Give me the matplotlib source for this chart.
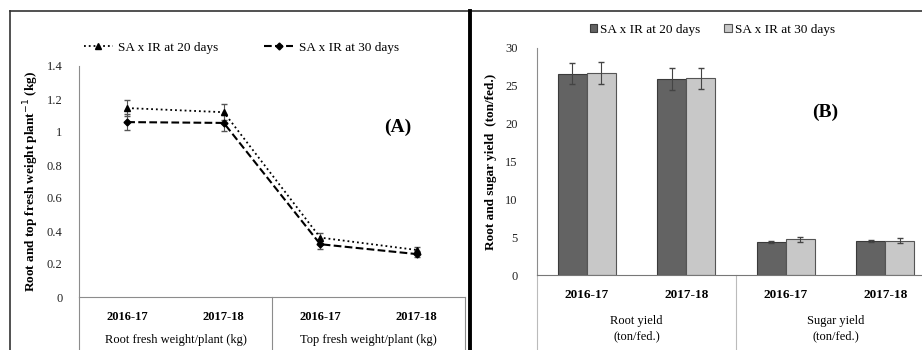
import matplotlib.pyplot as plt
from matplotlib.lines import Line2D

plt.rcParams['font.family'] = ['Liberation Serif', 'DejaVu Serif']

# panel A data
years = ['2016-17', '2017-18', '2016-17', '2017-18']
groups_a = ['Root fresh weight/plant (kg)', 'Top fresh weight/plant (kg)']
d20 = [1.145, 1.12, 0.36, 0.285]
d20_err = [0.05, 0.05, 0.03, 0.02]
d30 = [1.06, 1.055, 0.32, 0.26]
d30_err = [0.05, 0.05, 0.03, 0.02]

# panel B data
years_b = ['2016-17', '2017-18', '2016-17', '2017-18']
groups_b = ['Root yield\n(ton/fed.)', 'Sugar yield\n(ton/fed.)']
b20 = [26.6, 25.9, 4.35, 4.5]
b20_err = [1.4, 1.4, 0.15, 0.1]
b30 = [26.7, 26.0, 4.7, 4.55]
b30_err = [1.4, 1.4, 0.3, 0.3]

W, H = 922, 350
fig = plt.figure(figsize=(W / 100, H / 100), dpi=100)

def box(x0, y0, x1, y1):
    return [x0 / W, 1 - y1 / H, (x1 - x0) / W, (y1 - y0) / H]

# outer frame lines
fig.add_artist(Line2D([10 / W, 1], [1 - 11 / H] * 2, color='#333333', lw=1.2))
fig.add_artist(Line2D([10 / W] * 2, [0, 1 - 11 / H], color='#333333', lw=1.2))
fig.add_artist(Line2D([470 / W] * 2, [0, 1 - 11 / H], color='black', lw=2.8))

axis_grey = '#8c8c8c'

# ---------- panel A ----------
ax1 = fig.add_axes(box(79, 66, 465, 297))
x = range(len(years))
ax1.errorbar(x, d20, yerr=d20_err, color='black', ls=':', lw=1.3, marker='^', ms=5,
             ecolor='#555555', elinewidth=0.8, capsize=2.5)
ax1.errorbar(x, d30, yerr=d30_err, color='black', ls='--', lw=1.5, marker='D', ms=3.5,
             ecolor='#555555', elinewidth=0.8, capsize=2.5)
ax1.set_xlim(-0.5, 3.5)
ax1.set_ylim(0, 1.4)
ax1.set_yticks([0, 0.2, 0.4, 0.6, 0.8, 1, 1.2, 1.4])
ax1.set_yticklabels(['0', '0.2', '0.4', '0.6', '0.8', '1', '1.2', '1.4'], fontsize=9, color='#222222')
ax1.set_xticks(list(x))
ax1.set_xticklabels(years, fontsize=9, fontweight='bold')
ax1.tick_params(axis='x', length=0, pad=10)
ax1.tick_params(axis='y', length=0, pad=12)
for s in ['top', 'right']:
    ax1.spines[s].set_visible(False)
for s in ['left', 'bottom']:
    ax1.spines[s].set_color(axis_grey)
ax1.set_ylabel('Root and top fresh weight plant$^{-1}$ (kg)', fontsize=9.5, fontweight='bold', labelpad=4)
for i, g in enumerate(groups_a):
    ax1.text(0.5 + 2 * i, -0.185, g, transform=ax1.get_xaxis_transform(), ha='center', va='center', fontsize=9)
for xs in [-0.5, 1.5, 3.5]:
    ax1.plot([xs, xs], [0, -0.23], transform=ax1.get_xaxis_transform(), color=axis_grey, lw=0.8, clip_on=False)
ax1.text(2.8, 1.03, '(A)', fontsize=14, fontweight='bold', ha='center', va='center')
h1 = [Line2D([], [], color='black', ls=':', lw=1.3, marker='^', ms=5),
      Line2D([], [], color='black', ls='--', lw=1.5, marker='D', ms=3.5)]
ax1.legend(h1, ['SA x IR at 20 days', 'SA x IR at 30 days'], loc='lower center', bbox_to_anchor=(0.42, 1.03),
           ncol=2, frameon=False, fontsize=9.5, handlelength=2.2, columnspacing=3.5, borderaxespad=0,
           handletextpad=0.4)

# ---------- panel B ----------
ax2 = fig.add_axes(box(537, 48, 922, 275))
w = 0.29
xb = list(range(len(years_b)))
ax2.bar([i - w / 2 for i in xb], b20, w, color='#636363', edgecolor='#3a3a3a', lw=0.8,
        yerr=b20_err, ecolor='#444444', capsize=2.5, error_kw=dict(elinewidth=0.8), label='SA x IR at 20 days')
ax2.bar([i + w / 2 for i in xb], b30, w, color='#c8c8c8', edgecolor='#555555', lw=0.8,
        yerr=b30_err, ecolor='#444444', capsize=2.5, error_kw=dict(elinewidth=0.8), label='SA x IR at 30 days')
ax2.set_xlim(-0.5, 3.37)
ax2.set_ylim(0, 30)
ax2.set_yticks([0, 5, 10, 15, 20, 25, 30])
ax2.tick_params(axis='y', length=0, pad=14, labelsize=9, labelcolor='#222222')
ax2.set_xticks(xb)
ax2.set_xticklabels(years_b, fontsize=9.5, fontweight='bold')
ax2.tick_params(axis='x', length=0, pad=10)
for s in ['top', 'right']:
    ax2.spines[s].set_visible(False)
ax2.spines['left'].set_color(axis_grey)
ax2.spines['bottom'].set_color('#777777')
ax2.set_ylabel('Root and sugar yield  (ton/fed.)', fontsize=9.5, fontweight='bold', labelpad=6)
for i, g in enumerate(groups_b):
    ax2.text(0.5 + 2 * i, -0.235, g, transform=ax2.get_xaxis_transform(), ha='center', va='center',
             fontsize=9, linespacing=1.4)
for xs in [-0.5, 1.5]:
    ax2.plot([xs, xs], [0, -0.33], transform=ax2.get_xaxis_transform(), color='#bbbbbb', lw=0.8, clip_on=False)
ax2.text(2.4, 21.5, '(B)', fontsize=14, fontweight='bold', ha='center', va='center')
ax2.legend(loc='lower center', bbox_to_anchor=(0.455, 1.03), ncol=2, frameon=False, fontsize=9.5,
           handlelength=0.6, handleheight=0.6, columnspacing=1.8, borderaxespad=0, handletextpad=0.2)

fig.savefig('out.png', dpi=100)
